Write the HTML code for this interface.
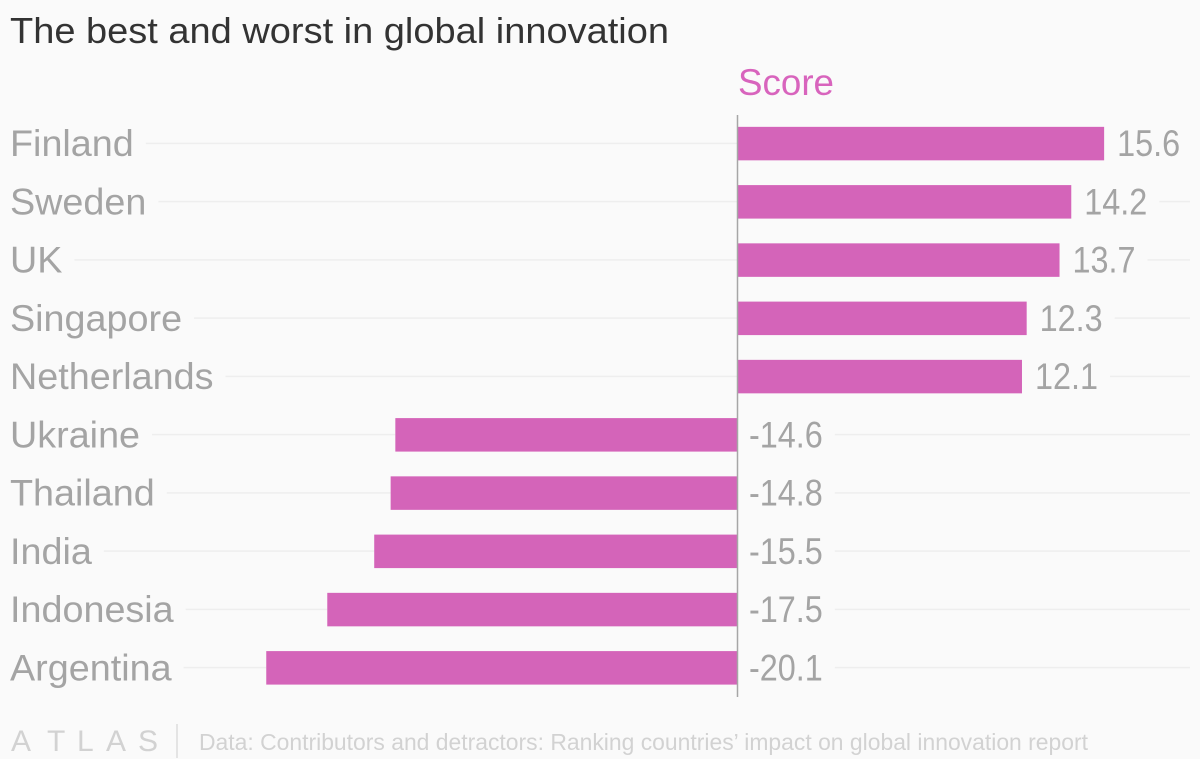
<!DOCTYPE html>
<html>
<head>
<meta charset="utf-8">
<style>
html,body{margin:0;padding:0;background:#fafafa;}
svg{display:block;}
text{font-family:"Liberation Sans",sans-serif;}
.cat{font-size:37px;fill:#a4a4a4;}
.val{font-size:37px;fill:#a4a4a4;}
</style>
</head>
<body>
<svg id="chart" width="1200" height="759" viewBox="0 0 1200 759" xmlns="http://www.w3.org/2000/svg">
<rect x="0" y="0" width="1200" height="759" fill="#fafafa"/>
<text x="10" y="43" font-size="36" fill="#333333" textLength="659" lengthAdjust="spacingAndGlyphs">The best and worst in global innovation</text>
<text x="738" y="95" font-size="37" fill="#d864bd" textLength="96" lengthAdjust="spacingAndGlyphs">Score</text>
<g id="grid"></g>
<g id="bars"></g>
<g id="labels"></g>
<g id="values"></g>
<line x1="737.5" x2="737.5" y1="115" y2="697" stroke="#a6a6a6" stroke-width="1.5"/>
<g>
<text x="11 47 77 106 138" y="751" font-size="30" fill="#d2d2d2">ATLAS</text>
</g>
<line x1="177" x2="177" y1="724" y2="758" stroke="#d4d4d4" stroke-width="1.2"/>
<text x="199" y="750" font-size="23" fill="#d2d2d2" textLength="889" lengthAdjust="spacingAndGlyphs">Data: Contributors and detractors: Ranking countries’ impact on global innovation report</text>
</svg>
<script>
const categories = ["Finland","Sweden","UK","Singapore","Netherlands","Ukraine","Thailand","India","Indonesia","Argentina"];
const scores = [15.6,14.2,13.7,12.3,12.1,-14.6,-14.8,-15.5,-17.5,-20.1];

const NS = "http://www.w3.org/2000/svg";
const pxPerUnit = 23.47, zeroX = 738, firstRowY = 143.4, rowStep = 58.25, barH = 33.5, gridEndX = 1190;
const labelStretch = 1.02, valueStretch = 0.875, baselineOffset = 12.6;
function xScale(v){ return zeroX + v * pxPerUnit; }
function yScale(i){ return firstRowY + i * rowStep; }
function make(tag, attrs, parent){
  const el = document.createElementNS(NS, tag);
  for (const k in attrs) el.setAttribute(k, attrs[k]);
  parent.appendChild(el);
  return el;
}
function stretch(el, factor){
  const w = el.getComputedTextLength() * factor;
  el.setAttribute("textLength", w);
  el.setAttribute("lengthAdjust", "spacingAndGlyphs");
  return w;
}
const gGrid = document.getElementById("grid");
const gBars = document.getElementById("bars");
const gLabels = document.getElementById("labels");
const gValues = document.getElementById("values");

categories.forEach(function(cat, i){
  const v = scores[i], y = yScale(i), x = xScale(v);

  const bar = make("rect", {x: Math.min(x, zeroX), y: y - barH / 2 + 0.2, width: Math.abs(x - zeroX), height: barH, fill: "#d464b9"}, gBars);
  
  

  const label = make("text", {"class": "cat", x: 10, y: y + baselineOffset}, gLabels);
  label.textContent = cat;
  
  
  const labelW = stretch(label, labelStretch);

  const valX = v >= 0 ? x + 13 : zeroX + 11;
  const val = make("text", {"class": "val", x: valX, y: y + baselineOffset}, gValues);
  val.textContent = v.toFixed(1);
  
  
  const valW = stretch(val, valueStretch);

  const labelEnd = 10 + labelW + 12;
  const valEnd = valX + valW + 12;
  const leftEnd = v >= 0 ? zeroX : x;

  const gl = make("line", {x1: labelEnd, x2: leftEnd, y1: y, y2: y, stroke: "#eeeeee", "stroke-width": 1.5}, gGrid);
  
  

  if (valEnd < gridEndX) {
    const gr = make("line", {x1: valEnd, x2: gridEndX, y1: y, y2: y, stroke: "#eeeeee", "stroke-width": 1.5}, gGrid);
    
    
  }
});
</script>
</body>
</html>
